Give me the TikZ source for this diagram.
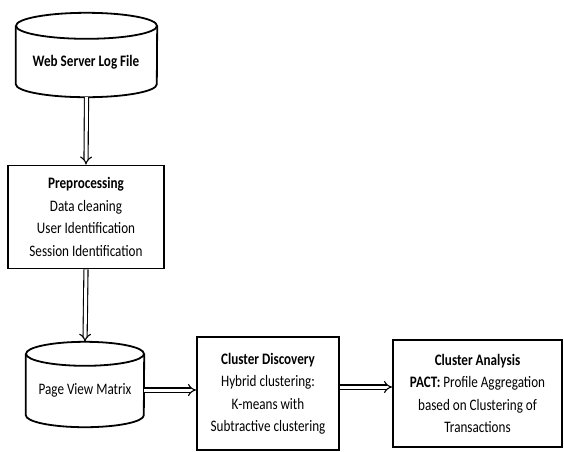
\documentclass[tikz,border=0pt]{standalone}
\usepackage{fontspec}
\setmainfont{Carlito}[FakeStretch=0.82]
\usetikzlibrary{arrows.meta}
\begin{document}
\begin{tikzpicture}[x=1pt,y=-1pt,
  box/.style={draw, line width=1.8pt, inner sep=0pt, align=center, font=\fontsize{16}{22.5}\selectfont},
  cyl/.style={inner sep=0pt},
  lbl/.style={inner sep=0pt, align=center, font=\fontsize{16}{22.5}\selectfont},
  dblarrow/.style={double, double distance=3pt, line width=1.1pt, -{Implies[length=5pt]}},
  cylline/.style={line width=1.8pt}
]
\useasboundingbox (0,0) rectangle (564,451);
% cylinder 1
\node[cyl, minimum width=141pt, minimum height=84pt] (log) at (86.5,55) {};
\draw[cylline] ([yshift=-13pt]log.north west) -- ([yshift=13pt]log.south west)
   arc[start angle=180, end angle=360, x radius=70.5pt, y radius=13pt]
   -- ([yshift=-13pt]log.north east);
\draw[cylline] ([yshift=-13pt]log.north) ellipse[x radius=70.5pt, y radius=13pt];
\node[lbl, font=\fontsize{16}{22.5}\selectfont\bfseries] (logtext) at (86,62) {Web Server Log File};
% preprocessing
\node[box, minimum width=156pt, minimum height=103pt] (pre) at (86,217)
  {\textbf{Preprocessing}\\Data cleaning\\User Identification\\Session Identification};
% cylinder 2
\node[cyl, minimum width=118pt, minimum height=85pt] (pvm) at (85,384.5) {};
\draw[cylline] ([yshift=-12pt]pvm.north west) -- ([yshift=12pt]pvm.south west)
   arc[start angle=180, end angle=360, x radius=59pt, y radius=12pt]
   -- ([yshift=-12pt]pvm.north east);
\draw[cylline] ([yshift=-12pt]pvm.north) ellipse[x radius=59pt, y radius=12pt];
\node[lbl] (pvmtext) at (85,390) {Page View Matrix};
% cluster discovery
\node[box, minimum width=142pt, minimum height=113pt] (cd) at (268,393.5)
  {\textbf{Cluster Discovery}\\Hybrid clustering:\\K-means with\\Subtractive clustering};
% cluster analysis
\node[box, minimum width=169pt, minimum height=107pt] (ca) at (477.5,393.5)
  {\textbf{Cluster Analysis}\\\textbf{PACT:} Profile Aggregation\\based on Clustering of\\Transactions};
% arrows
\draw[dblarrow] (log.south) -- (pre.north);
\draw[dblarrow] (pre.south) -- (pvm.north);
\draw[dblarrow] (pvm.east |- 0,390) -- (cd.west |- 0,390);
\draw[dblarrow] (cd.east |- 0,387) -- (ca.west |- 0,387);
\end{tikzpicture}
\end{document}
